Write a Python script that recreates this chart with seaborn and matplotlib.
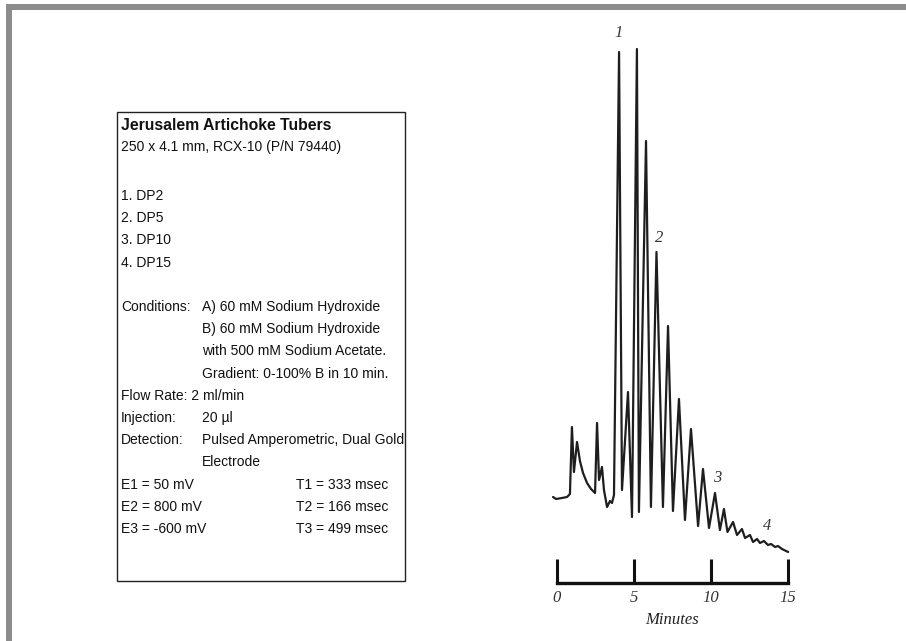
import numpy as np
import pandas as pd
import matplotlib
matplotlib.use("Agg")
import matplotlib.pyplot as plt
from matplotlib.patches import Rectangle
import seaborn as sns

# ---------------- data ----------------
time_min = [-0.26, -0.06, 0.32, 0.65, 0.84, 0.97, 1.10, 1.30, 1.49, 1.69, 1.95, 2.21,
            2.47, 2.60, 2.73, 2.92, 3.05, 3.25, 3.44, 3.57, 3.70, 4.03, 4.22, 4.61,
            4.87, 5.19, 5.32, 5.78, 6.10, 6.46, 6.88, 7.21, 7.53, 7.92, 8.31, 8.70,
            9.16, 9.48, 9.87, 10.26, 10.58, 10.84, 11.07, 11.43, 11.69, 12.01, 12.21,
            12.53, 12.73, 12.99, 13.18, 13.44, 13.70, 13.90, 14.16, 14.35, 14.61, 15.01]
response = [17.2, 16.8, 17.0, 17.2, 17.8, 31.2, 22.2, 28.2, 24.4, 22.0, 20.0, 18.8,
            18.0, 32.0, 20.6, 23.2, 18.6, 15.2, 16.4, 16.0, 17.6, 106.2, 18.6, 38.2,
            13.2, 106.8, 14.2, 88.4, 15.2, 66.2, 15.2, 51.4, 14.4, 36.8, 12.6, 30.8,
            11.4, 22.8, 11.0, 18.0, 10.6, 14.8, 10.2, 12.2, 9.6, 10.8, 9.0,
            9.6, 8.2, 8.8, 8.0, 8.4, 7.6, 7.8, 7.2, 7.4, 6.8, 6.2]

peak_labels = ["1", "2", "3", "4"]
peak_label_time = [4.03, 6.62, 10.39, 13.64]
peak_label_resp = [110.0, 69.0, 21.0, 11.4]

x_ticks = [0, 5, 10, 15]
x_tick_labels = ["0", "5", "10", "15"]
x_label = "Minutes"

box_title = "Jerusalem Artichoke Tubers"
box_column = "250 x 4.1 mm, RCX-10 (P/N 79440)"
box_peaks = ["1. DP2", "2. DP5", "3. DP10", "4. DP15"]
cond_label = "Conditions:"
cond_values = ["A) 60 mM Sodium Hydroxide", "B) 60 mM Sodium Hydroxide",
               "with 500 mM Sodium Acetate.", "Gradient: 0-100% B in 10 min."]
flow_line = "Flow Rate: 2 ml/min"
inj_label, inj_value = "Injection:", "20 µl"
det_label = "Detection:"
det_values = ["Pulsed Amperometric, Dual Gold", "Electrode"]
e_values = ["E1 = 50 mV", "E2 = 800 mV", "E3 = -600 mV"]
t_values = ["T1 = 333 msec", "T2 = 166 msec", "T3 = 499 msec"]

# ---------------- figure ----------------
sns.set_theme(style="white")
plt.rcParams["font.family"] = ["Liberation Sans", "DejaVu Sans"]

W, H = 906, 641
fig = plt.figure(figsize=(W / 100, H / 100), dpi=100)
fig.patch.set_facecolor("white")

def fx(x):
    return x / W

def fy(y):
    return 1 - y / H

# gray frame (top and left)
fig.patches.append(Rectangle((fx(6), fy(10)), fx(W) - fx(6), fy(4) - fy(10),
                             transform=fig.transFigure, facecolor="#8c8c8c",
                             edgecolor="none", zorder=0))
fig.patches.append(Rectangle((fx(6), 0), fx(12) - fx(6), fy(4),
                             transform=fig.transFigure, facecolor="#8c8c8c",
                             edgecolor="none", zorder=0))

# ---------------- chromatogram ----------------
px_per_min = 15.4
x0_px = 557
ax_left_px = x0_px - 1 * px_per_min
ax_right_px = x0_px + 16 * px_per_min
ax_bottom_px, ax_top_px = 583, 8
ax = fig.add_axes([fx(ax_left_px), fy(ax_bottom_px),
                   fx(ax_right_px) - fx(ax_left_px), fy(ax_top_px) - fy(ax_bottom_px)])
ax.set_facecolor("none")

df = pd.DataFrame({"time": time_min, "resp": response})
sns.lineplot(data=df, x="time", y="resp", ax=ax, sort=False, estimator=None,
             color="#1e1e1e", linewidth=1.6)

ax.set_xlim(-1, 16)
ax.set_ylim(0, 115)
for s in ["left", "right", "top"]:
    ax.spines[s].set_visible(False)
ax.spines["bottom"].set_bounds(0, 15)
ax.spines["bottom"].set_linewidth(2.4)
ax.spines["bottom"].set_color("#111111")
ax.spines["bottom"].set_capstyle("projecting")
ax.set_yticks([])
ax.set_ylabel("")
ax.set_xticks(x_ticks)
ax.set_xticklabels(x_tick_labels, fontfamily="Liberation Serif", fontstyle="italic",
                   fontsize=12, color="#333333")
ax.tick_params(axis="x", direction="in", length=17, width=2.2, color="#111111",
               pad=5, bottom=True)
ax.set_xlabel(x_label, fontfamily="Liberation Serif", fontstyle="italic",
              fontsize=12, color="#222222", labelpad=4)

for lab, t, r in zip(peak_labels, peak_label_time, peak_label_resp):
    ax.text(t, r, lab, fontfamily="Liberation Serif", fontstyle="italic",
            fontsize=12, color="#333333", ha="center", va="center")

# ---------------- info box ----------------
bx_l, bx_t, bx_r, bx_b = 117, 112, 405, 581
fig.patches.append(Rectangle((fx(bx_l), fy(bx_b)), fx(bx_r) - fx(bx_l), fy(bx_t) - fy(bx_b),
                             transform=fig.transFigure, facecolor="white",
                             edgecolor="#222222", linewidth=1.0, zorder=1))

fs = 10.0
tx = 121
col2 = 202
colT = 296
lh = 22.2
kw = dict(fontsize=fs, color="#111111", va="center", ha="left", zorder=3)

fig.text(fx(tx), fy(125), box_title, fontsize=11.3, fontweight="bold",
         color="#111111", va="center", ha="left", zorder=3)
fig.text(fx(tx), fy(147), box_column, **kw)

y = 196
for p in box_peaks:
    fig.text(fx(tx), fy(y), p, **kw)
    y += lh
y += lh
fig.text(fx(tx), fy(y), cond_label, **kw)
for v in cond_values:
    fig.text(fx(col2), fy(y), v, **kw)
    y += lh
fig.text(fx(tx), fy(y), flow_line, **kw)
y += lh
fig.text(fx(tx), fy(y), inj_label, **kw)
fig.text(fx(col2), fy(y), inj_value, **kw)
y += lh
fig.text(fx(tx), fy(y), det_label, **kw)
for v in det_values:
    fig.text(fx(col2), fy(y), v, **kw)
    y += lh
for e, t in zip(e_values, t_values):
    fig.text(fx(tx), fy(y), e, **kw)
    fig.text(fx(colT), fy(y), t, **kw)
    y += lh

fig.savefig("out.png", dpi=100, facecolor="white")
